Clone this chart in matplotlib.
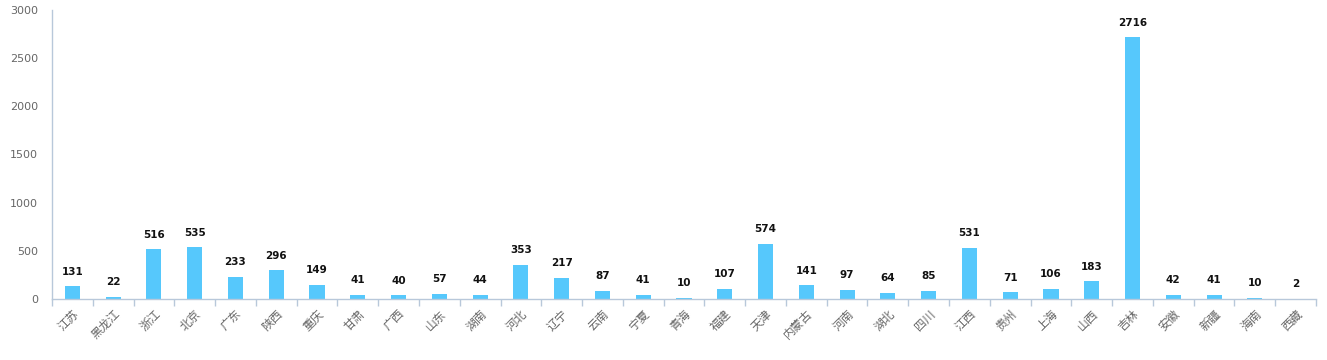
import numpy as np
import matplotlib.pyplot as plt

plt.rcParams['font.family'] = ['DejaVu Sans', 'Noto Sans CJK SC']

provinces = ['江苏', '黑龙江', '浙江', '北京', '广东', '陕西', '重庆', '甘肃', '广西', '山东',
             '湖南', '河北', '辽宁', '云南', '宁夏', '青海', '福建', '天津', '内蒙古', '河南',
             '湖北', '四川', '江西', '贵州', '上海', '山西', '吉林', '安徽', '新疆', '海南', '西藏']
counts = [131, 22, 516, 535, 233, 296, 149, 41, 40, 57,
          44, 353, 217, 87, 41, 10, 107, 574, 141, 97,
          64, 85, 531, 71, 106, 183, 2716, 42, 41, 10, 2]
yticks = [0, 500, 1000, 1500, 2000, 2500, 3000]

axis_col = '#b8c8da'
bar_col = '#56c8fc'

fig = plt.figure(figsize=(13.27, 3.6), dpi=100)
ax = fig.add_axes([52 / 1327, 61 / 360, 1264 / 1327, 289 / 360])

x = np.arange(len(provinces))
ax.bar(x, counts, width=0.37, color=bar_col, zorder=2)

for xi, v in zip(x, counts):
    ax.text(xi, v + 100, str(v), ha='center', va='bottom', fontsize=7.5,
            fontweight='bold', color='#111111')

ax.set_xlim(-0.5, len(provinces) - 0.5)
ax.set_ylim(0, 3000)
ax.set_yticks(yticks)
ax.set_yticklabels([str(t) for t in yticks], fontsize=8, color='#666666')
ax.tick_params(axis='y', length=0, pad=10)

# ticks between categories, labels at the centres
ax.set_xticks(np.arange(len(provinces) + 1) - 0.5)
ax.set_xticklabels([])
ax.set_xticks(x, minor=True)
ax.set_xticklabels(provinces, minor=True, rotation=45, ha='right',
                   rotation_mode='anchor', fontsize=8.5, color='#666666',
                   family=['Noto Sans CJK SC', 'DejaVu Sans'])
ax.tick_params(axis='x', which='major', length=5, color=axis_col, width=1)
ax.tick_params(axis='x', which='minor', length=0, pad=6)

for side in ['top', 'right']:
    ax.spines[side].set_visible(False)
for side in ['left', 'bottom']:
    ax.spines[side].set_color(axis_col)
    ax.spines[side].set_linewidth(1)

fig.savefig('out.png', dpi=100)
